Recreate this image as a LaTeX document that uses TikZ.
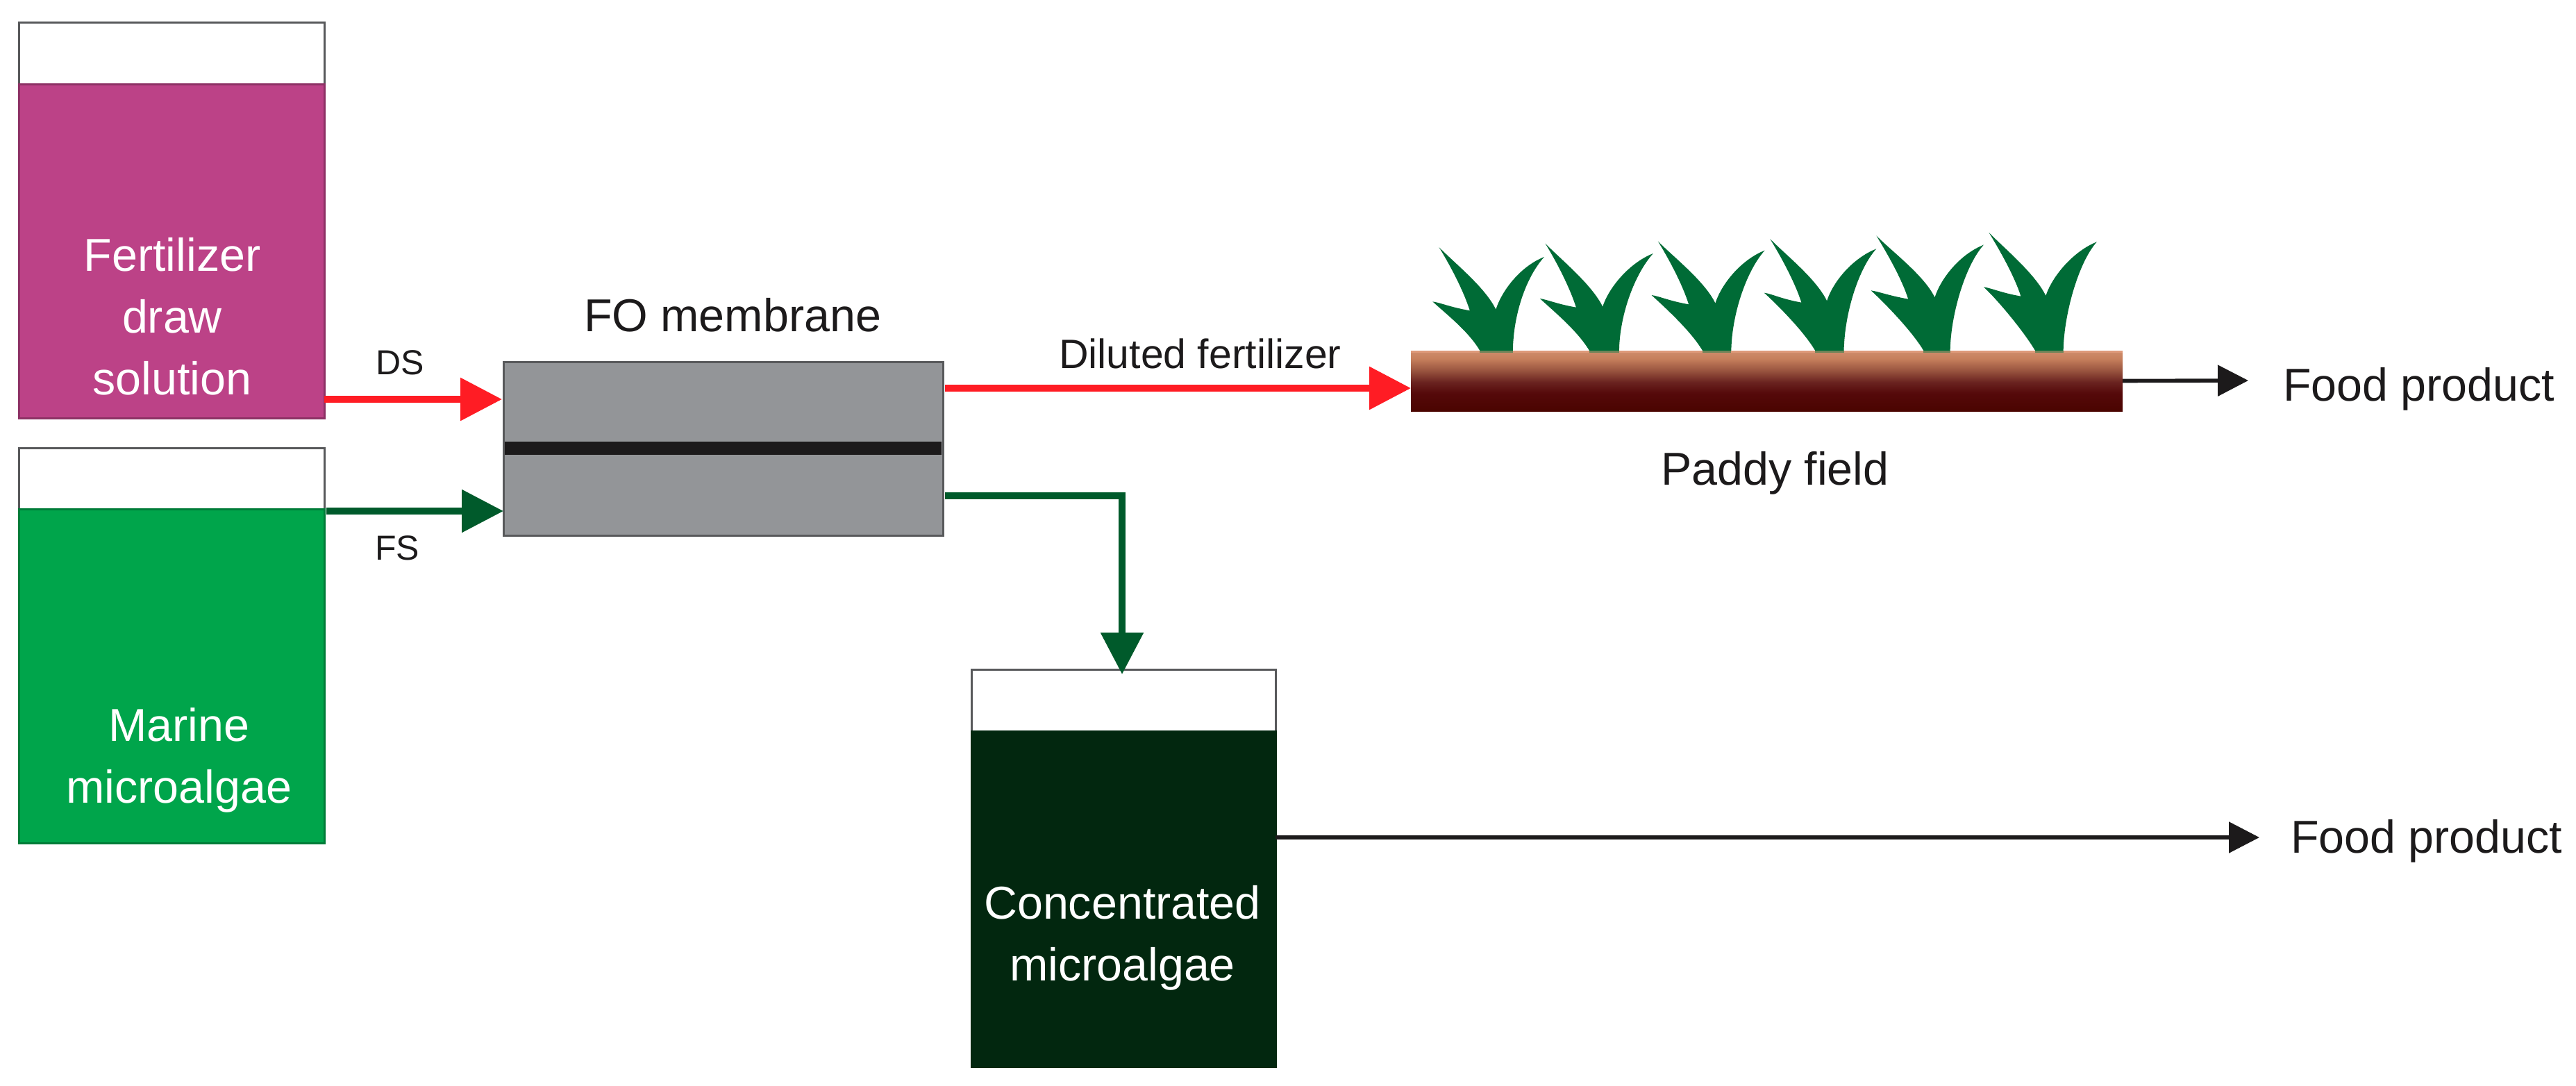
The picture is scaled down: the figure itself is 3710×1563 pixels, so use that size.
\documentclass[tikz,border=0pt]{standalone}
\usepackage{fontspec}
\setmainfont{Liberation Sans}
\usetikzlibrary{arrows.meta,fit}
\definecolor{inktext}{HTML}{1C1A1B}
\definecolor{magentaliq}{HTML}{BC4287}
\definecolor{greenliq}{HTML}{00A54B}
\definecolor{darkliq}{HTML}{02270F}
\definecolor{memgray}{HTML}{939598}
\definecolor{edgegray}{HTML}{58595B}
\definecolor{redflow}{HTML}{FF1C24}
\definecolor{greenflow}{HTML}{005A2B}
\definecolor{grass}{HTML}{006B36}
\definecolor{soiltop}{HTML}{DE9A7A}
\definecolor{soilA}{RGB}{74,4,0}
\definecolor{soilB}{RGB}{85,9,10}
\definecolor{soilC}{RGB}{106,35,32}
\definecolor{soilD}{RGB}{154,85,64}
\definecolor{soilE}{RGB}{198,127,92}
\definecolor{soilF}{RGB}{207,141,108}
\pgfdeclareverticalshading{soilgrad}{100bp}{
  color(0bp)=(soilA);
  color(25bp)=(soilA);
  color(39.7bp)=(soilB);
  color(49bp)=(soilC);
  color(58.8bp)=(soilD);
  color(68.3bp)=(soilE);
  color(75bp)=(soilF);
  color(100bp)=(soilF)}
\tikzset{
  box/.style={inner sep=0pt,outer sep=0pt,line width=.75pt},
  headspace/.style={box,draw=edgegray,fill=white},
  liquid/.style={box,fill=#1},
  txt/.style={inner sep=0pt,outer sep=0pt,text=inktext,font=\fontsize{16.6}{22.3}\selectfont},
  txtsmall/.style={txt,font=\fontsize{12.5}{15}\selectfont},
  txtmid/.style={txt,font=\fontsize{14.75}{18}\selectfont},
  inwhite/.style={txt,text=white,align=center},
  flow/.style={line width=#1},
  redarrow/.style={flow=2.4pt,draw=redflow,-{Triangle[length=15pt,width=15pt,fill=redflow]}},
  greenarrow/.style={flow=2.3pt,draw=greenflow,-{Triangle[length=15pt,width=15pt,fill=greenflow]}},
  blackarrow/.style={flow=1.4pt,draw=inktext,-{Triangle[length=11pt,width=11pt,fill=inktext]}},
  blade/.style={fill=grass,draw=none}
}
\begin{document}
\begin{tikzpicture}[x=0.25pt,y=-0.25pt]
\useasboundingbox (0,0) rectangle (3710,1563);
% tanks
\node[headspace,fit={(27,32)(467,121)}] (t1top) {};
\node[liquid=magentaliq,draw=magentaliq!75!black,fit={(27,121)(467,602)}] (t1liq) {};
\node[headspace,fit={(27,645)(467,733)}] (t2top) {};
\node[liquid=greenliq,draw=greenliq!75!black,fit={(27,733)(467,1214)}] (t2liq) {};
\node[headspace,fit={(1399,964)(1837,1053)}] (t3top) {};
\node[liquid=darkliq,draw=darkliq,fit={(1399,1053)(1837,1536)}] (t3liq) {};
\node[inwhite] (t1txt) at (248,456) {Fertilizer\\draw\\solution};
\node[inwhite] (t2txt) at (258,1095) {Marine\\microalgae};
\node[inwhite] (t3txt) at (1616.5,1351) {Concentrated\\microalgae};
% membrane
\node[box,fill=memgray,draw=edgegray,fit={(725,521)(1358,771)}] (mem) {};
\node[box,fill=inktext,fit={(727,636)(1356,655)}] (bar) {};
\node[txt,anchor=base west] (memtxt) at (841,477) {FO membrane};
% paddy
\begin{scope}[shift={(1950,300)},x=0.19132pt,y=-0.08333pt]
\foreach \bl/\br/\rtx/\rty/\nx/\ny/\ctx/\cty/\ix/\iy/\ltx/\lty in {
  237/299/358/210/267/437/160/168/218/442/148/403,
  443/499/563/195/468/425/360/152/418/428/350/390,
  656/710/773/182/680/410/572/142/630/415/560/375,
  868/922/983/175/890/400/783/132/842/407/772/365,
  1072/1122/1185/158/1093/385/983/118/1043/392/973/355,
  1282/1335/1398/145/1302/378/1195/105/1255/380/1185/340}{
  \fill[blade] (\bl,624) -- (\bl,615)
    .. controls (\bl-22,530) and (\ltx+26,\lty+55) .. (\ltx,\lty)
    .. controls (\ltx+15,\lty+5) and (\ix-37,\iy-15) .. (\ix,\iy)
    .. controls (\ix-11,\iy-80) and (\ctx+24,\cty+90) .. (\ctx,\cty)
    .. controls (\ctx+30,\cty+70) and (\nx-20,\ny-95) .. (\nx,\ny)
    .. controls (\nx+12,\ny-85) and (\rtx-44,\rty+40) .. (\rtx,\rty)
    .. controls (\rtx-35,\rty+90) and (\br+1,460) .. (\br,615) -- (\br,624) -- cycle;
}
\end{scope}
\node[inner sep=0pt,outer sep=0pt,shading=soilgrad,fit={(2032,505)(3057,592)}] (field) {};
\fill[soiltop] (field.north west) rectangle ([yshift=-.75pt]field.north east);
\begin{scope}[shift={(1950,300)},x=0.19132pt,y=-0.08333pt]
\foreach \bl/\br in {237/299,443/499,656/710,868/922,1072/1122,1282/1335}{
  \fill[grass!50!soiltop] (\bl,615) rectangle (\br,624);
}
\end{scope}
\node[txt,anchor=base west] (paddy) at (2392,698) {Paddy field};
% texts on connectors
\node[txtsmall,anchor=base west] (dstxt) at (541,539) {DS};
\node[txtsmall,anchor=base west] (fstxt) at (540,806) {FS};
\node[txtmid,anchor=base west] (diltxt) at (1525,530) {Diluted fertilizer};
\node[txt,anchor=base west] (food1) at (3288,577) {Food product};
\node[txt,anchor=base west] (food2) at (3299,1228) {Food product};
\coordinate (food1tip) at (3238,548);
\coordinate (food2tip) at (3254,1206);
% connectors
\draw[redarrow] (t1liq.south east |- 0,575) -- ([xshift=-0.5pt,yshift=17.75pt]mem.west);
\draw[greenarrow] (470,736) -- ([yshift=-22.5pt]mem.west);
\draw[redarrow] ([xshift=.75pt,yshift=21.75pt]mem.east) -- (field.west |- 0,559);
\draw[greenarrow] ([xshift=.75pt,yshift=-17pt]mem.east) -| ([xshift=-.5pt,yshift=-1.75pt]t3top.north);
\draw[blackarrow] (field.east) -- (food1tip);
\draw[blackarrow] (t3liq.north east |- 0,1206) -- (food2tip);
\end{tikzpicture}
\end{document}
